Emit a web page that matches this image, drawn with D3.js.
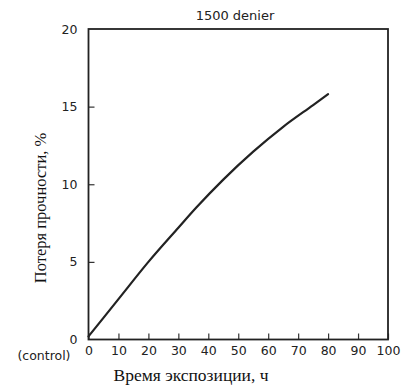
<!DOCTYPE html>
<html>
<head>
<meta charset="utf-8">
<script src="https://cdn.jsdelivr.net/npm/d3@7"></script>
<style>
  body { margin: 0; background: #fff; }
  .tick text { font-family: "DejaVu Sans", sans-serif; font-size: 12.5px; fill: #222; }
</style>
</head>
<body>
<script>
// values
var hours = [0, 10, 20, 30, 36, 45, 55, 65, 75, 80];
var loss = [0.2, 2.6, 5.0, 7.2, 8.5, 10.3, 12.1, 13.7, 15.1, 15.8];
var xTicks = [0, 10, 20, 30, 40, 50, 60, 70, 80, 90, 100];
var yTicks = [0, 5, 10, 15, 20];
var title = "1500 denier";
var xLabel = "Время экспозиции, ч";
var yLabel = "Потеря прочности, %";

var width = 414, height = 388;
// plot box edges (not "top": that one belongs to window)
var plotL = 88.5, plotR = 388, plotT = 29, plotB = 339.5;

var svg = d3.select("body").append("svg")
    .attr("width", width)
    .attr("height", height);

var x = d3.scaleLinear().domain([0, 100]).range([plotL, plotR]);
var y = d3.scaleLinear().domain([0, 20]).range([plotB, plotT]);

// x axis, ticks pointing up into the plot
var gx = svg.append("g")
    .attr("transform", "translate(0," + plotB + ")")
    .call(d3.axisBottom(x).tickValues(xTicks).tickSizeInner(-6).tickSizeOuter(0).tickPadding(5));
gx.select(".domain").remove();
gx.selectAll(".tick line").attr("stroke", "#333").attr("stroke-width", 1.2);
gx.selectAll(".tick text").attr("y", 5).attr("dy", "0.85em");

// y axis, ticks pointing right into the plot
var gy = svg.append("g")
    .attr("transform", "translate(" + plotL + ",0)")
    .call(d3.axisLeft(y).tickValues(yTicks).tickSizeInner(-6).tickSizeOuter(0).tickPadding(11));
gy.select(".domain").remove();
gy.selectAll(".tick line").attr("stroke", "#333").attr("stroke-width", 1.2);
gy.selectAll(".tick")
  .filter(function(d) { return d === 0 || d === 20; })
  .select("line").remove();

// "(control)" under the zero
svg.append("text")
    .attr("x", plotL - 18)
    .attr("y", 360)
    .attr("text-anchor", "end")
    .style("font-family", "DejaVu Sans, sans-serif")
    .style("font-size", "12.5px")
    .attr("fill", "#222")
    .text("(control)");

// frame
svg.append("rect")
    .attr("x", plotL)
    .attr("y", plotT)
    .attr("width", plotR - plotL)
    .attr("height", plotB - plotT)
    .attr("fill", "none")
    .attr("stroke", "#222")
    .attr("stroke-width", 1.8);

var line = d3.line()
    .x(function(d, i) { return x(hours[i]); })
    .y(function(d) { return y(d); })
    .curve(d3.curveMonotoneX);

svg.append("path")
    .datum(loss)
    .attr("d", line)
    .attr("fill", "none")
    .attr("stroke", "#222")
    .attr("stroke-width", 2.2)
    .attr("stroke-linecap", "round");

svg.append("text")
    .attr("x", 235)
    .attr("y", 20)
    .attr("text-anchor", "middle")
    .style("font-family", "DejaVu Sans, sans-serif")
    .style("font-size", "13px")
    .attr("fill", "#222")
    .text(title);

svg.append("text")
    .attr("x", 191)
    .attr("y", 381)
    .attr("text-anchor", "middle")
    .style("font-family", "Liberation Serif, Times New Roman, serif")
    .style("font-size", "17.5px")
    .attr("fill", "#111")
    .text(xLabel);

svg.append("text")
    .attr("transform", "translate(46,208) rotate(-90)")
    .attr("text-anchor", "middle")
    .style("font-family", "Liberation Serif, Times New Roman, serif")
    .style("font-size", "16.5px")
    .attr("fill", "#111")
    .text(yLabel);
</script>
</body>
</html>
